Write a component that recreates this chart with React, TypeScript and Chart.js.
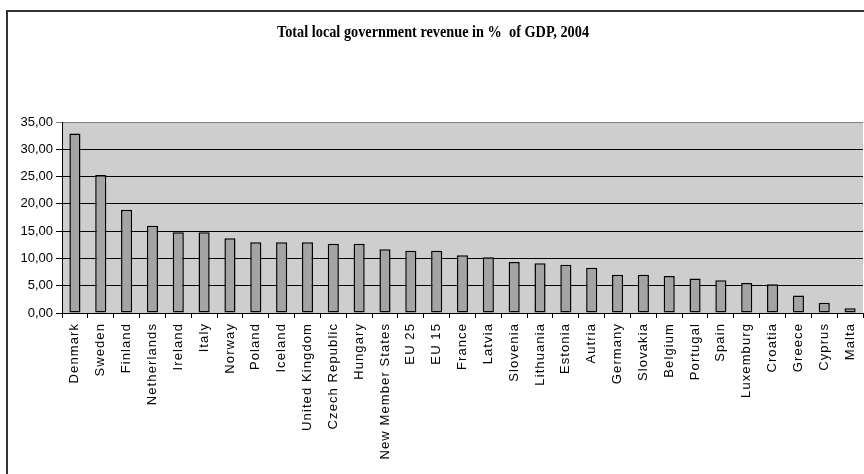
import React, { useEffect, useRef } from "react";
import { Chart, registerables } from "chart.js";

Chart.register(...registerables);

const countries: string[] = [
  "Denmark", "Sweden", "Finland", "Netherlands", "Ireland", "Italy", "Norway",
  "Poland", "Iceland", "United Kingdom", "Czech Republic", "Hungary",
  "New Member States", "EU 25", "EU 15", "France", "Latvia", "Slovenia",
  "Lithuania", "Estonia", "Autria", "Germany", "Slovakia", "Belgium",
  "Portugal", "Spain", "Luxemburg", "Croatia", "Greece", "Cyprus", "Malta",
];

// Local government revenue, % of GDP
const revenueShare: number[] = [
  32.9, 25.3, 18.9, 16.0, 14.8, 14.8, 13.7,
  12.95, 12.95, 12.95, 12.7, 12.7,
  11.7, 11.4, 11.4, 10.6, 10.2, 9.35,
  9.1, 8.85, 8.3, 7.0, 7.0, 6.8,
  6.3, 6.0, 5.5, 5.25, 3.2, 1.9, 0.85,
];

const yTickMin = 0;
const yTickMax = 35;
const yTickStep = 5;

const chartTitle = "Total local government revenue in %  of GDP, 2004";

const W = 864;
const H = 474;

const plotBackground = {
  id: "plotBackground",
  beforeDraw(chart: any) {
    const { ctx, chartArea } = chart;
    ctx.save();
    ctx.fillStyle = "#cecece";
    ctx.fillRect(chartArea.left, chartArea.top, chartArea.right - chartArea.left, chartArea.bottom - chartArea.top);
    ctx.restore();
  },
};

export default function App() {
  const canvasRef = useRef<HTMLCanvasElement | null>(null);

  useEffect(() => {
    if (!canvasRef.current) return;
    const chart = new Chart(canvasRef.current, {
      type: "bar",
      data: {
        labels: countries,
        datasets: [
          {
            data: revenueShare,
            backgroundColor: "#a4a4a4",
            borderColor: "#000000",
            borderWidth: 1.5,
            borderSkipped: false,
            barPercentage: 0.43,
            categoryPercentage: 1,
          },
        ],
      },
      options: {
        responsive: false,
        animation: false,
        devicePixelRatio: 1,
        layout: { padding: { top: 122, left: 0, right: 1, bottom: 0 } },
        plugins: {
          legend: { display: false },
          title: { display: false },
          tooltip: { enabled: false },
        },
        scales: {
          x: {
            type: "category",
            offset: true,
            grid: {
              offset: true,
              drawOnChartArea: false,
              drawTicks: true,
              tickLength: 5,
              color: "#000000",
            },
            border: { display: true, color: "#000000", width: 1 },
            ticks: {
              autoSkip: false,
              minRotation: 90,
              maxRotation: 90,
              padding: 5,
              color: "#000000",
              font: { family: "'Liberation Sans', Arial, sans-serif", size: 13 },
            },
            afterFit(scale: any) {
              scale.height = H - 313;
              scale.paddingLeft = 0;
              scale.paddingRight = 0;
            },
            afterUpdate(scale: any) {
              if (!scale.__spaced) {
                const draw = scale.drawLabels.bind(scale);
                scale.drawLabels = (area: any) => {
                  const ctx = scale.ctx as any;
                  const prev = ctx.letterSpacing;
                  ctx.letterSpacing = "1.1px";
                  draw(area);
                  ctx.letterSpacing = prev || "0px";
                };
                scale.__spaced = true;
              }
            },
          },
          y: {
            min: yTickMin,
            max: yTickMax,
            grid: {
              color: (c: any) => (c.tick && c.tick.value === yTickMax ? "#808080" : "#000000"),
              lineWidth: 1,
              tickLength: 6,
              drawTicks: true,
            },
            border: { display: true, color: "#000000", width: 1 },
            ticks: {
              stepSize: yTickStep,
              padding: 3,
              color: "#000000",
              font: { family: "'Liberation Sans', Arial, sans-serif", size: 13 },
              callback: (v: any) => Number(v).toFixed(2).replace(".", ","),
            },
            afterFit(scale: any) {
              scale.width = 62;
              scale.paddingTop = 0;
              scale.paddingBottom = 0;
            },
          },
        },
      },
      plugins: [plotBackground],
    });
    return () => chart.destroy();
  }, []);

  return (
    <div
      style={{
        position: "fixed",
        left: 0,
        top: 0,
        width: W,
        height: H,
        overflow: "hidden",
        background: "#ffffff",
      }}
    >
      <div
        style={{
          position: "absolute",
          left: 6,
          top: 10,
          width: 2000,
          height: 2000,
          borderLeft: "2px solid #333333",
          borderTop: "2px solid #333333",
        }}
      />
      <canvas
        ref={canvasRef}
        width={W}
        height={H}
        style={{ position: "absolute", left: 0, top: 0, width: W, height: H }}
      />
      <div
        style={{
          position: "absolute",
          left: 1,
          top: 23,
          width: W,
          textAlign: "center",
          fontFamily: "'Liberation Serif', 'Times New Roman', serif",
          fontWeight: "bold",
          fontSize: 17,
          lineHeight: "17px",
          color: "#000000",
          transform: "scaleX(0.84)",
          transformOrigin: "50% 50%",
          whiteSpace: "pre",
        }}
      >
        {chartTitle}
      </div>
    </div>
  );
}
